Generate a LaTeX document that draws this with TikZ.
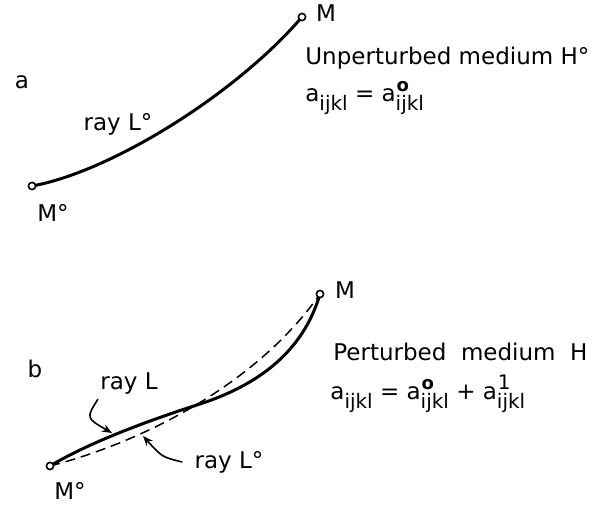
\documentclass[tikz,border=0pt]{standalone}
\usepackage{fontspec}
\setmainfont{DejaVu Sans}
\usetikzlibrary{arrows.meta}
% lowered index ijkl
\newcommand{\idx}{\raisebox{-0.75ex}{\fontsize{10}{10}\selectfont ijkl}}
% coefficient a_ijkl with an optional upper index
\newcommand{\coef}[1]{a\makebox[0pt][l]{\raisebox{0.8ex}{\fontsize{10}{10}\selectfont\hspace{0.5pt}#1}}\idx}
% coefficient of the unperturbed medium
\newcommand{\coefo}{\coef{\fontsize{9}{9}\selectfont\bfseries o}}
\begin{document}
\begin{tikzpicture}[x=0.5pt, y=-0.5pt,
    every node/.style={font=\fontsize{11.5}{14}\selectfont, inner sep=0pt},
    pt/.style={circle, draw, line width=0.8pt, fill=white, minimum size=3.6pt},
    ray/.style={line width=1.5pt},
    ray0/.style={line width=0.75pt, dash pattern=on 5pt off 3pt},
    pointer/.style={line width=0.8pt, -{Stealth[length=5pt, width=4pt]}}]
    \useasboundingbox (0,0) rectangle (599,508);
    \clip (0,0) rectangle (599,508);
    % (a) unperturbed medium
    \node (lbla) at (22,82) {a};
    \draw[ray] (32,186) .. controls (110,172) and (235,95) .. (302,17);
    \node[pt] (M0a) at (32,186) {};
    \node[pt] (Ma) at (302,17) {};
    \node (M0atxt) at (53,213) {M°};
    \node (Matxt) at (326,13) {M};
    \node (rayL0a) at (118,124) {ray L°};
    \node[anchor=west] (medA) at (305,58) {Unperturbed medium H°};
    \node[anchor=west] (eqA) at (305,98) {\coef{} = \coefo};
    % (b) perturbed medium
    \node (lblb) at (35,369) {b};
    \draw[ray0] (50,466) .. controls (150,440) and (260,380) .. (320,294);
    \draw[ray] (50,466) .. controls (90,442) and (150,420) .. (200,404)
        .. controls (258,385) and (303,352) .. (320,294);
    \node[pt] (M0b) at (50,466) {};
    \node[pt] (Mb) at (320,294) {};
    \node (M0btxt) at (70,491) {M°};
    \node (Mbtxt) at (345,290) {M};
    \node (rayL) at (129,384) {ray L};
    \node (rayL0) at (229,462) {ray L°};
    \coordinate (onL) at (112,433);
    \coordinate (onL0) at (143,436);
    \draw[pointer] ([shift={(-2,4)}]rayL.south west) .. controls (86,418) .. (onL);
    \draw[pointer] ([xshift=-6]rayL0.west) .. controls (162,457) .. (onL0);
    \node[anchor=west] (medB) at (333,352) {Perturbed \ medium \ H};
    \node[anchor=west] (eqB) at (330,394) {\coef{} = \coefo{} + \coef{1}};
\end{tikzpicture}
\end{document}
